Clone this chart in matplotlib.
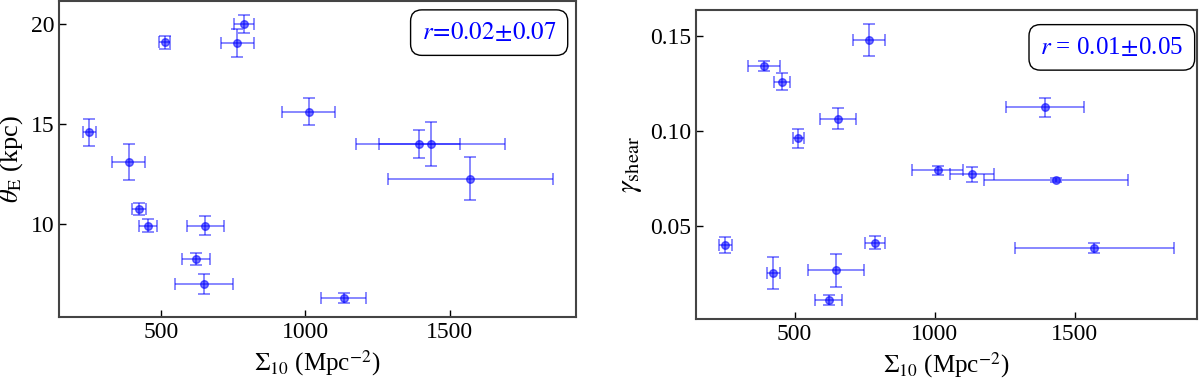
import matplotlib
matplotlib.use("Agg")
from matplotlib import pyplot as plt

plt.rcParams["font.family"] = ["Liberation Serif", "DejaVu Serif"]
plt.rcParams["mathtext.fontset"] = "stix"

# shared x values: Sigma_10 (Mpc^-2)
sigma10 = [252, 389, 424, 455, 513, 621, 648, 654, 765, 787, 1011, 1132, 1394, 1433, 1570]
sigma10_err = [23, 57, 23, 30, 20, 49, 100, 64, 58, 35, 91, 78, 140, 257, 285]

theta_e = [14.58, 13.08, 10.73, 9.90, 19.10, 8.24, 6.97, 9.90, 19.07, 20.0, 15.62, 6.27, 14.0, 13.99, 12.26]
theta_e_err = [0.67, 0.89, 0.31, 0.31, 0.32, 0.31, 0.51, 0.47, 0.71, 0.44, 0.69, 0.23, 0.69, 1.12, 1.06]

gamma = [0.0398, 0.1339, 0.0250, 0.1257, 0.0959, 0.0108, 0.0264, 0.1062, 0.1475, 0.0409,
         0.0791, 0.0771, 0.1122, 0.0740, 0.0383]
gamma_err = [0.0041, 0.0025, 0.0086, 0.0044, 0.0049, 0.0027, 0.0086, 0.0056, 0.0084, 0.0034,
             0.0025, 0.0039, 0.0052, 0.0013, 0.0026]

x_ticks = [500, 1000, 1500]
theta_ticks = [10, 15, 20]
gamma_ticks = [0.05, 0.10, 0.15]
r_texts = [r"$r\!=\!0.02\!\pm\!0.07$", r"$r$ = 0.01$\!\pm\!$0.05"]

fig = plt.figure(figsize=(12, 3.83), dpi=100)
ax1 = fig.add_axes([0.0492, 0.1723, 0.4308, 0.825])
ax2 = fig.add_axes([0.58, 0.1663, 0.4175, 0.8068])


def panel(ax, y, yerr, ylabel, rtext, pos, yticks, yfmt):
    ax.errorbar(sigma10, y, xerr=sigma10_err, yerr=yerr, fmt="o", color="blue",
                alpha=0.55, markersize=5.5, capsize=4, elinewidth=1.2, capthick=1.2)
    ax.set_xlabel(r"$\Sigma_{10}$ (Mpc$^{-2}$)", fontsize=18)
    ax.set_ylabel(ylabel, fontsize=19)
    ax.set_xticks(x_ticks)
    ax.set_yticks(yticks, [yfmt.format(v) for v in yticks])
    ax.tick_params(direction="in", labelsize=17, length=5, width=1)
    for s in ax.spines.values():
        s.set_color("#444444")
        s.set_linewidth(1.5)
    ax.text(pos[0], pos[1], rtext, transform=ax.transAxes, ha="center", va="center",
            color="blue", fontsize=18,
            bbox=dict(boxstyle="round,pad=0.45", facecolor="white", edgecolor="black", linewidth=1))


panel(ax1, theta_e, theta_e_err, r"$\theta_{\rm E}$ (kpc)", r_texts[0], (0.832, 0.90),
      theta_ticks, "{:d}")
panel(ax2, gamma, gamma_err, r"$\gamma_{\rm shear}$", r_texts[1], (0.83, 0.88),
      gamma_ticks, "{:.2f}")
ax2.yaxis.label.set_size(21)

fig.savefig("out.png", dpi=100)
